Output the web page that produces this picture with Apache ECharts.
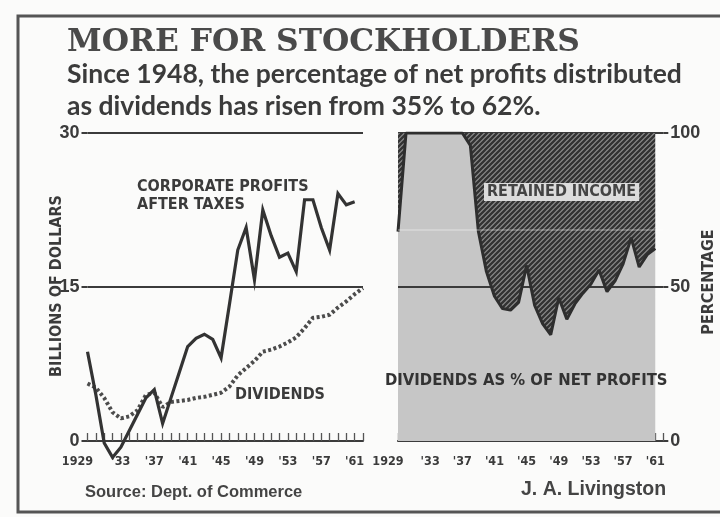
<!DOCTYPE html>
<html><head><meta charset="utf-8">
<script src="https://cdn.jsdelivr.net/npm/echarts@6/dist/echarts.min.js"></script>
<style>html,body{margin:0;padding:0;background:#fbfbfa;}#c{width:720px;height:517px;}</style>
</head><body><div id="c"></div>
<script>
// ---- data ----
const years = [1929,1930,1931,1932,1933,1934,1935,1936,1937,1938,1939,1940,1941,1942,1943,1944,1945,1946,1947,1948,1949,1950,1951,1952,1953,1954,1955,1956,1957,1958,1959,1960,1961,1962];
// Corporate profits after taxes, billions of dollars (1929-1961)
const profits = [8.7,4.5,-0.2,-1.6,-0.6,1.0,2.6,4.2,5.0,1.7,4.2,6.7,9.2,10.0,10.4,9.9,8.1,13.3,18.6,20.8,15.7,22.5,20.0,17.9,18.3,16.5,23.5,23.5,20.8,18.6,24.1,23.0,23.3];
// Dividends, billions of dollars (1929-1962)
const dividends = [5.6,5.2,4.2,2.8,2.2,2.4,3.0,4.5,4.7,3.3,3.8,3.9,4.0,4.2,4.3,4.5,4.7,5.3,6.4,7.1,7.8,8.7,8.9,9.2,9.6,10.1,11.0,12.0,12.1,12.3,13.0,13.6,14.3,14.9];
// Dividends as % of net profits (1929-1961), capped at 100 as drawn
const dividendPct = [68,100,100,100,100,100,100,100,100,96,68,55,47,43,42.5,45,57,44,38,34.5,46.5,39.5,44.5,48,51,55.5,48.5,52,57.5,66,56.5,60.5,62.5];
const yearTickLabels = [1929,1933,1937,1941,1945,1949,1953,1957,1961];

const pair = arr => arr.map((v,i)=>[years[i], v]);

function hatch(){
  const s=5, c=document.createElement('canvas'); c.width=s; c.height=s;
  const g=c.getContext('2d');
  g.fillStyle='#8e8e8e'; g.fillRect(0,0,s,s);
  g.strokeStyle='#333'; g.lineWidth=2.3;
  g.beginPath();
  g.moveTo(0,s); g.lineTo(s,0);
  g.moveTo(-1,1); g.lineTo(1,-1);
  g.moveTo(s-1,s+1); g.lineTo(s+1,s-1);
  g.stroke();
  return c;
}

const INK = '#3b3b3b';
const COND = '"DejaVu Sans Condensed","DejaVu Sans",sans-serif';

function yearLabel(v){
  if (yearTickLabels.indexOf(v) < 0) return '';
  return v === 1929 ? '{f|1929}' : "'" + String(v).slice(2);
}
const xAxisCommon = {
  type:'value', min:1929, max:1962, interval:1,
  axisLine:{show:true, lineStyle:{color:INK, width:2}},
  axisTick:{show:true, inside:true, length:8, lineStyle:{color:'#555', width:1.3}},
  splitLine:{show:false},
  axisLabel:{formatter:yearLabel, color:INK, fontFamily:COND, fontWeight:'bold', fontSize:12.5, margin:14,
    rich:{f:{fontFamily:COND, fontWeight:'bold', fontSize:12.5, color:INK, padding:[0,20,0,0]}}}
};

const chart = echarts.init(document.getElementById('c'), null, {renderer:'canvas'});
chart.setOption({
  animation:false,
  backgroundColor:'#fbfbfa',
  grid:[
    {left:87.5, right:357, top:133, bottom:76},
    {left:398, right:56.7, top:133, bottom:76}
  ],
  xAxis:[
    Object.assign({gridIndex:0}, xAxisCommon),
    Object.assign({gridIndex:1}, xAxisCommon)
  ],
  yAxis:[
    {gridIndex:0, type:'value', min:0, max:30, interval:15,
     axisLine:{show:false},
     axisTick:{show:true, length:6, lineStyle:{color:INK, width:2}},
     splitLine:{show:true, lineStyle:{color:INK, width:2}},
     axisLabel:{color:INK, fontFamily:'"Liberation Sans",sans-serif', fontWeight:'bold', fontSize:18, margin:8}},
    {gridIndex:1, type:'value', min:0, max:100, interval:50, position:'right',
     axisLine:{show:false},
     axisTick:{show:true, length:5, lineStyle:{color:INK, width:2}},
     splitLine:{show:false},
     axisLabel:{color:INK, fontFamily:'"Liberation Sans",sans-serif', fontWeight:'bold', fontSize:18, margin:7}}
  ],
  series:[
    {name:'Corporate profits after taxes', type:'line', xAxisIndex:0, yAxisIndex:0,
     data:pair(profits), symbol:'none', clip:false, z:4,
     lineStyle:{color:'#333', width:3.2, join:'miter'}},
    {name:'Dividends', type:'line', xAxisIndex:0, yAxisIndex:0,
     data:pair(dividends), symbol:'none', z:3,
     lineStyle:{color:'#4c4c4c', width:4, type:[3,2.5]}},
    {name:'Dividends %', type:'line', xAxisIndex:1, yAxisIndex:1,
     data:pair(dividendPct), symbol:'none', z:2,
     lineStyle:{width:0},
     areaStyle:{color:'#c6c6c6', opacity:1},
     markLine:{silent:true, symbol:'none', z:5, label:{show:false},
       lineStyle:{color:INK, width:2, type:'solid'},
       data:[{yAxis:50},{yAxis:100}]}},
    {name:'Retained income', type:'line', xAxisIndex:1, yAxisIndex:1,
     data:pair(dividendPct), symbol:'none', z:6,
     lineStyle:{color:'#2e2e2e', width:3},
     areaStyle:{origin:'end', color:{image:hatch(), repeat:'repeat'}, opacity:1},
     markLine:{silent:true, symbol:'none', z:7, label:{show:false},
       lineStyle:{color:'rgba(255,255,255,0.35)', width:1.5, type:'solid'},
       data:[{yAxis:68.5}]}}
  ],
  graphic:[
    {type:'rect', shape:{x:18, y:16, width:720, height:496}, style:{fill:'none', stroke:'#555', lineWidth:3}, z:100},
    {type:'text', left:67, top:27, style:{text:'MORE FOR STOCKHOLDERS', font:'bold 31.3px "DejaVu Serif",serif', fill:'#4a4a4a'}},
    {type:'text', left:67, top:61, style:{text:'Since 1948, the percentage of net profits distributed', font:'bold 26.5px Lato,sans-serif', fill:INK}},
    {type:'text', left:67, top:93, style:{text:'as dividends has risen from 35% to 62%.', font:'bold 26.5px Lato,sans-serif', fill:INK}},
    {type:'text', x:137, y:187, style:{text:'CORPORATE PROFITS', font:'bold 16px '+COND, fill:INK, textVerticalAlign:'middle'}},
    {type:'text', x:137, y:205, style:{text:'AFTER TAXES', font:'bold 16px '+COND, fill:INK, textVerticalAlign:'middle'}},
    {type:'text', x:235, y:395, style:{text:'DIVIDENDS', font:'bold 16px '+COND, fill:INK, textVerticalAlign:'middle'}},
    {type:'text', x:484, y:192, z:50, style:{text:'RETAINED INCOME', font:'bold 16px '+COND, fill:'#444', textVerticalAlign:'middle', backgroundColor:'#dcdcdc', padding:[1,3]}},
    {type:'text', x:385, y:381, z:50, style:{text:'DIVIDENDS AS % OF NET PROFITS', font:'bold 16.5px '+COND, fill:'#333', textVerticalAlign:'middle'}},
    {type:'text', x:57, y:286, rotation:Math.PI/2, style:{text:'BILLIONS OF DOLLARS', font:'bold 16px '+COND, fill:INK, textAlign:'center', textVerticalAlign:'middle'}},
    {type:'text', x:709, y:282, rotation:Math.PI/2, style:{text:'PERCENTAGE', font:'bold 16px '+COND, fill:INK, textAlign:'center', textVerticalAlign:'middle'}},
    {type:'text', x:85, y:492, style:{text:'Source: Dept. of Commerce', font:'bold 16.5px "Liberation Sans",sans-serif', fill:'#444', textVerticalAlign:'middle'}},
    {type:'text', x:521, y:490, style:{text:'J. A. Livingston', font:'bold 19.5px "Liberation Sans",sans-serif', fill:'#444', textVerticalAlign:'middle'}}
  ]
});
</script></body></html>
